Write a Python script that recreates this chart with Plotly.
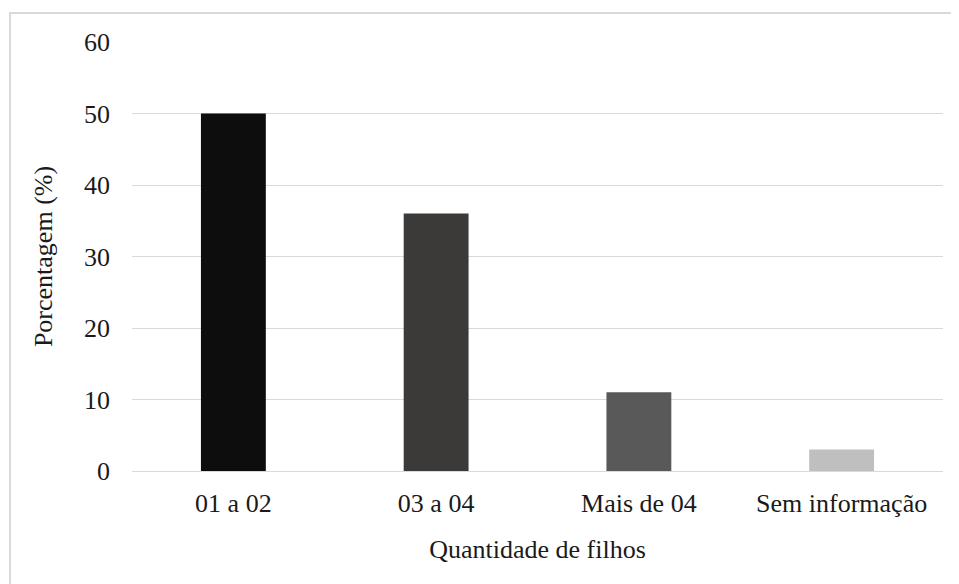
import plotly.graph_objects as go

categories = ["01 a 02", "03 a 04", "Mais de 04", "Sem informação"]
values = [50, 36, 11, 3]
bar_colors = ["#0d0d0d", "#3b3a38", "#595959", "#bfbfbf"]
y_ticks = [0, 10, 20, 30, 40, 50, 60]

FONT = "Liberation Serif, Times New Roman, serif"

fig = go.Figure(go.Bar(x=categories, y=values, marker=dict(color=bar_colors, line=dict(width=0)),
                       width=0.32))

# page body adds an 8px offset; margins compensate
fig.update_layout(
    width=951, height=576,
    margin=dict(l=124, r=16, t=34, b=113),
    paper_bgcolor="white", plot_bgcolor="white",
    font=dict(family=FONT, size=26, color="#1a1a1a"),
    showlegend=False,
    xaxis=dict(
        title=dict(text="Quantidade de filhos", font=dict(size=26), standoff=22),
        showgrid=False, showline=False, zeroline=False, ticks="",
        ticklabelstandoff=14,
    ),
    yaxis=dict(
        title=dict(text="Porcentagem (%)", font=dict(size=26), standoff=23),
        range=[0, 60], tickvals=y_ticks, showgrid=True, gridcolor="#d9d9d9", gridwidth=1,
        zeroline=True, zerolinecolor="#d9d9d9", zerolinewidth=1,
        showline=False, ticks="", ticklabelstandoff=21,
    ),
    shapes=[dict(type="rect", xref="paper", yref="paper",
                 x0=(10 - 132) / 811, x1=1.2, y0=-0.5, y1=1 + (42 - 13) / 429,
                 line=dict(color="#d9d9d9", width=2), layer="below")],
)

fig.write_html("out.html")
